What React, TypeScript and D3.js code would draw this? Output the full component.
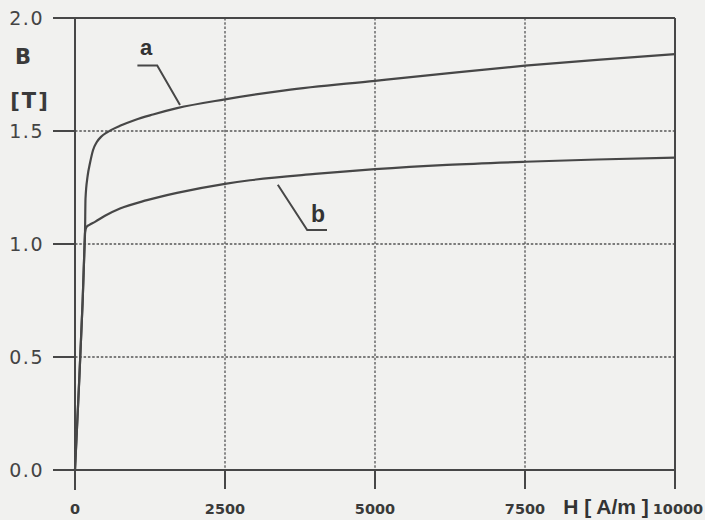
import React from "react";
import * as d3 from "d3";

// Magnetisation curves B(H) for two materials
const curveAH = [0, 55, 128, 160, 167, 175, 210, 250, 300, 361, 440, 528, 750, 1000, 1300, 1700, 2500, 3500, 5000, 6200, 7500, 8700, 10000];
const curveAB = [0, 0.31, 0.75, 1.0, 1.05, 1.2, 1.3, 1.358, 1.415, 1.45, 1.476, 1.493, 1.523, 1.549, 1.573, 1.601, 1.64, 1.68, 1.722, 1.755, 1.789, 1.815, 1.84];
const curveBH = [0, 55, 128, 160, 167, 190, 240, 333, 500, 750, 1200, 1700, 2500, 2917, 4000, 5000, 6200, 7500, 8700, 10000];
const curveBB = [0, 0.31, 0.75, 1.0, 1.05, 1.075, 1.085, 1.098, 1.125, 1.157, 1.194, 1.226, 1.266, 1.282, 1.31, 1.331, 1.35, 1.364, 1.374, 1.382];

const yTicks = [0, 0.5, 1.0, 1.5, 2.0];
const xTicks = [0, 2500, 5000, 7500, 10000];
const xTickLabels = ["0", "2500", "5000", "7500", "10000"];

// Label leaders in data units: [H, B] points from label to curve
const leaderA: [number, number][] = [[1040, 1.79], [1370, 1.79], [1750, 1.615]];
const leaderB: [number, number][] = [[3380, 1.262], [3870, 1.062], [4200, 1.062]];

const W = 705;
const H = 520;
const ink = "#474747";

export default function App() {
  const x = d3.scaleLinear().domain([0, 10000]).range([75, 675]);
  const y = d3.scaleLinear().domain([0, 2]).range([470, 18]);

  const line = d3
    .line<[number, number]>()
    .x((d) => x(d[0]))
    .y((d) => y(d[1]))
    .curve(d3.curveMonotoneX);

  const ptsA: [number, number][] = curveAH.map((h, i) => [h, curveAB[i]]);
  const ptsB: [number, number][] = curveBH.map((h, i) => [h, curveBB[i]]);
  const leader = d3
    .line<[number, number]>()
    .x((d) => x(d[0]))
    .y((d) => y(d[1]));

  const font = "'Liberation Sans', Arial, sans-serif";
  const wide = "'DejaVu Sans', sans-serif";
  const x0 = x(0);
  const x1 = x(10000);
  const yTop = y(2);
  const yBot = y(0);

  return (
    <svg
      width={W}
      height={H}
      style={{ position: "absolute", left: 0, top: 0, background: "#f1f1ef" }}
    >
      <rect x={0} y={0} width={W} height={H} fill="#f1f1ef" />

      {/* dotted grid */}
      {yTicks
        .filter((t) => t > 0 && t < 2)
        .map((t) => (
          <line
            key={"gy" + t}
            x1={x0}
            x2={x1}
            y1={y(t)}
            y2={y(t)}
            stroke="#555"
            strokeWidth={1.5}
            strokeDasharray="2.5,1.8"
          />
        ))}
      {xTicks
        .filter((t) => t > 0 && t < 10000)
        .map((t) => (
          <line
            key={"gx" + t}
            x1={x(t)}
            x2={x(t)}
            y1={yTop}
            y2={yBot}
            stroke="#555"
            strokeWidth={1.3}
            strokeDasharray="2.5,1.8"
          />
        ))}

      {/* frame and axes */}
      <line x1={53} x2={x1} y1={yTop} y2={yTop} stroke={ink} strokeWidth={2} />
      <line x1={x1} x2={x1} y1={yTop} y2={yBot + 19} stroke={ink} strokeWidth={2} />
      <line x1={x0} x2={x0} y1={yTop} y2={yBot + 20} stroke={ink} strokeWidth={2} />
      <line x1={55} x2={x1} y1={yBot} y2={yBot} stroke={ink} strokeWidth={2} />

      {/* y ticks and labels */}
      {yTicks.map((t) => (
        <g key={"yt" + t}>
          <line x1={53} x2={x0} y1={y(t)} y2={y(t)} stroke={ink} strokeWidth={2} />
          <text
            x={44}
            y={y(t) + 7}
            textAnchor="end"
            fontFamily={wide}
            fontSize={19}
            letterSpacing={1.5}
            fill="#444"
          >
            {t.toFixed(1)}
          </text>
        </g>
      ))}
      <text x={23} y={64} textAnchor="middle" fontFamily={wide} fontSize={21} fontWeight="bold" fill="#3a3a3a">
        B
      </text>
      <text x={30} y={108} textAnchor="middle" fontFamily={wide} fontSize={21} fontWeight="bold" letterSpacing={2} fill="#3a3a3a">
        [T]
      </text>

      {/* x ticks and labels */}
      {xTicks.map((t, i) => (
        <g key={"xt" + t}>
          <line x1={x(t)} x2={x(t)} y1={yBot} y2={yBot + 19} stroke={ink} strokeWidth={2} />
          <text
            x={x(t) + (t === 10000 ? 3 : 0)}
            y={514}
            textAnchor="middle"
            fontFamily={wide}
            fontSize={14.5}
            fontWeight="bold"
            fill="#3a3a3a"
          >
            {xTickLabels[i]}
          </text>
        </g>
      ))}
      <text x={606} y={514} textAnchor="middle" fontFamily={font} fontSize={21} fontWeight="bold" fill="#333">
        H [ A/m ]
      </text>

      {/* curves */}
      <path d={line(ptsA) ?? ""} fill="none" stroke={ink} strokeWidth={2.2} />
      <path d={line(ptsB) ?? ""} fill="none" stroke={ink} strokeWidth={2.2} />

      {/* curve labels */}
      <path d={leader(leaderA) ?? ""} fill="none" stroke={ink} strokeWidth={2} />
      <text x={146} y={55} textAnchor="middle" fontFamily={font} fontSize={22} fontWeight="bold" fill="#333">
        a
      </text>
      <path d={leader(leaderB) ?? ""} fill="none" stroke={ink} strokeWidth={2} />
      <text x={318} y={222} textAnchor="middle" fontFamily={font} fontSize={23} fontWeight="bold" fill="#333">
        b
      </text>
    </svg>
  );
}
